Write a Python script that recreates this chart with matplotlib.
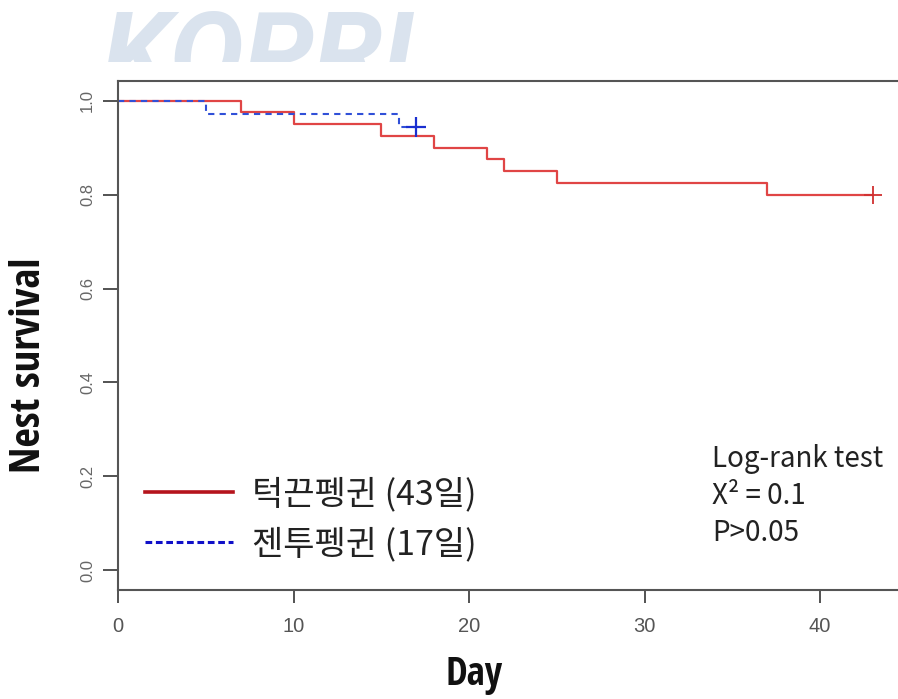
import matplotlib
matplotlib.use("Agg")
import matplotlib.pyplot as plt
from matplotlib.lines import Line2D
from matplotlib.transforms import Bbox, TransformedBbox

# Kaplan-Meier step data
chinstrap_days = [0, 7, 10, 15, 18, 21, 22, 25, 37, 43]
chinstrap_surv = [1.0, 0.975, 0.95, 0.925, 0.90, 0.875, 0.85, 0.825, 0.80, 0.80]
gentoo_days = [0, 5, 16, 17]
gentoo_surv = [1.0, 0.971, 0.943, 0.943]
censor_chinstrap = (43, 0.80)
censor_gentoo = (17, 0.943)

legend_labels = ["턱끈펭귄 (43일)", "젠투펭귄 (17일)"]
stats_lines = ["Log-rank test", "X² = 0.1", "P>0.05"]
x_ticks = [0, 10, 20, 30, 40]
y_ticks = [0.0, 0.2, 0.4, 0.6, 0.8, 1.0]

W, H = 898, 699
fig = plt.figure(figsize=(W / 100, H / 100), dpi=100)

def fx(px):
    return px / W

def fy(py):
    return 1 - py / H

# faint watermark at the top, cut off flat
wm = fig.text(fx(258), fy(8), "KOPRI", ha="center", va="top", fontsize=80,
              fontweight="bold", style="italic", color="#dae3ee", family="Roboto")
wm.set_clip_box(TransformedBbox(Bbox([[0, fy(62)], [1, 1]]), fig.transFigure))
wm.set_clip_on(True)

ax = fig.add_axes([fx(118), fy(590), 1 - fx(118), fy(81) - fy(590)])
ax.set_xlim(0, (W - 118) / 17.55)
ax.set_ylim(-0.042, 1.042)

ax.step(chinstrap_days, chinstrap_surv, where="post", color="#e04545", lw=1.6)
ax.step(gentoo_days, gentoo_surv, where="post", color="#3050d8", lw=1.5,
        dashes=(3, 2.5))
ax.plot(*censor_chinstrap, marker="+", color="#d03030", ms=13, mew=1.3)
ax.plot(*censor_gentoo, marker="+", color="#1a2fd0", ms=14, mew=1.6)

for s in ["left", "bottom", "top"]:
    ax.spines[s].set_color("#555555")
    ax.spines[s].set_linewidth(1.5)
ax.spines["right"].set_visible(False)

ax.set_xticks(x_ticks)
ax.set_xticklabels([str(t) for t in x_ticks], fontsize=14.5,
                   family="Liberation Sans", color="#555555")
ax.set_yticks(y_ticks)
ax.set_yticklabels([f"{t:.1f}" for t in y_ticks], rotation=90, va="center",
                   fontsize=12, family="Liberation Sans", color="#666666")
ax.tick_params(axis="x", length=9.5, width=1.3, color="#444444", pad=10)
ax.tick_params(axis="y", length=10.5, width=1.3, color="#444444", pad=6)

label_fonts = ["Open Sans Condensed", "Roboto"]
fig.text(fx(29), fy(365), "Nest survival", rotation=90, ha="center", va="center",
         fontsize=30.5, fontweight="bold", family=label_fonts, color="#111111")
fig.text(fx(474), fy(675), "Day", ha="center", va="center", fontsize=28,
         fontweight="bold", family=label_fonts, color="#111111")

handles = [Line2D([], [], color="#b5141c", lw=2.6),
           Line2D([], [], color="#1010c8", lw=2.2, dashes=(2.2, 1.2))]
ax.legend(handles, legend_labels, loc="center left",
          bbox_to_anchor=(fx(145), fy(519.5)), bbox_transform=fig.transFigure,
          frameon=False, handlelength=2.6, handletextpad=0.55,
          labelspacing=0.43, borderpad=0, borderaxespad=0,
          prop={"family": ["Noto Sans CJK KR"], "size": 24.5},
          labelcolor="#222222")

for i, line in enumerate(stats_lines):
    fig.text(fx(712), fy(467 + 37 * i), line, ha="left", va="baseline",
             fontsize=20, family=["Noto Sans CJK KR", "DejaVu Sans"],
             color="#222222")

fig.savefig("out.png", dpi=100)
